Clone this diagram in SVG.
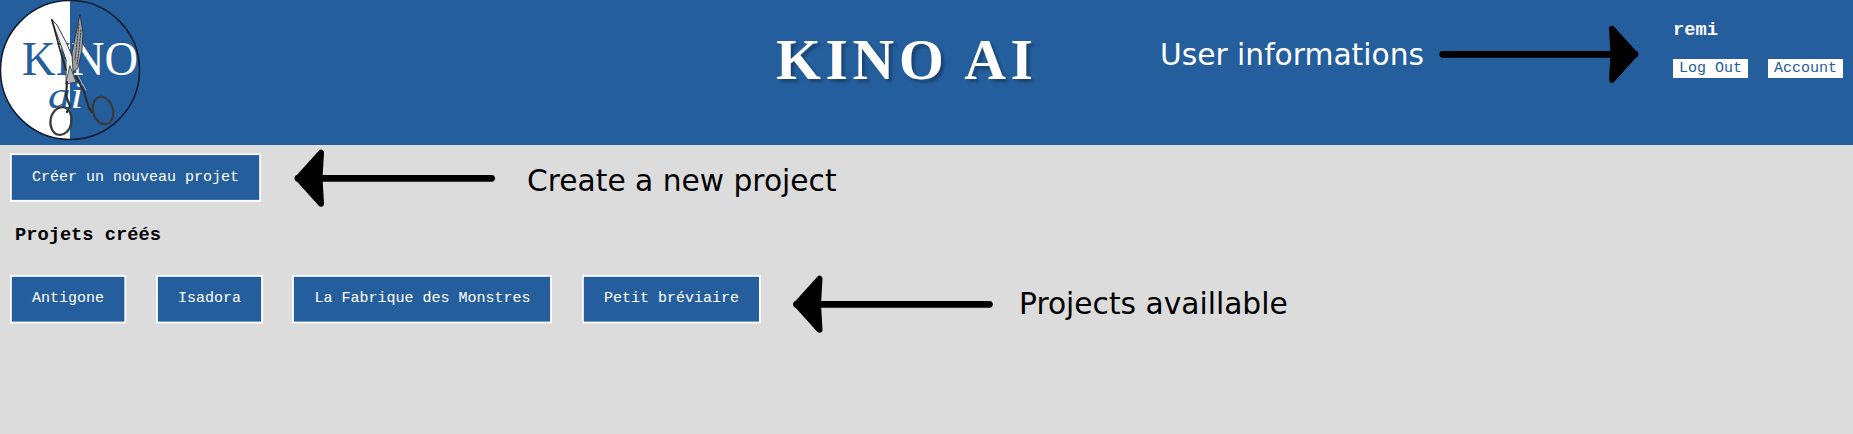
<svg xmlns="http://www.w3.org/2000/svg" width="1853" height="434" viewBox="0 0 1853 434">
<style>
.mono{font-family:"Liberation Mono",monospace}
.btn rect{fill:#245e9d;stroke:#fff;stroke-width:1.8}
.btn text{font-family:"Liberation Mono",monospace;font-size:15px;fill:#fff;text-anchor:middle}
.lnk rect{fill:#fff}
.lnk text{font-family:"Liberation Mono",monospace;font-size:15px;fill:#245e9d;text-anchor:middle}
.note{font-family:"DejaVu Sans",sans-serif;font-size:29.7px}
.arrow{stroke:#000;stroke-width:6.8;stroke-linecap:round;fill:none;marker-end:url(#head)}
.logo{font-family:"Liberation Serif",serif;fill:url(#split)}
</style>
<defs>
<marker id="head" markerUnits="userSpaceOnUse" markerWidth="44" markerHeight="70" viewBox="-36 -35 44 70" refX="0" refY="0" orient="auto">
<path d="M-23,-25.5 L0,0 L-23,25.5 L-21.5,0 Z" fill="#000" stroke="#000" stroke-width="6" stroke-linejoin="round"/>
</marker>
<linearGradient id="split" gradientUnits="userSpaceOnUse" x1="0" y1="0" x2="140" y2="0">
<stop offset="0.5" stop-color="#245e9d"/><stop offset="0.5" stop-color="#fff"/>
</linearGradient>
<filter id="sh" x="-5%" y="-20%" width="110%" height="150%"><feDropShadow dx="3" dy="3" stdDeviation="1.5" flood-color="#000" flood-opacity="0.3"/></filter>
</defs>
<rect width="1853" height="434" fill="#dcdcdc"/>
<rect id="header" width="1853" height="145" fill="#245e9d"/>
<g id="logo">
<path d="M70,0.5A69.5,69.5 0 0 0 70,139.5Z" fill="#fff"/>
<circle cx="70" cy="70" r="69.5" fill="none" stroke="#0d1c2e" stroke-width="1.5"/>
<text class="logo" x="22" y="75" font-size="48.5" textLength="116" lengthAdjust="spacingAndGlyphs">KINO</text>
<text class="logo" x="48" y="108" font-size="38" font-style="italic" textLength="35" lengthAdjust="spacingAndGlyphs">ai</text>
<g id="scissors" fill="none" stroke-linecap="round" stroke-linejoin="round">
<path d="M51.7,19.3 L57,25 L66,42 L73,58 L75,68 L72,78 L66,82 L66,60 Z" fill="#eef0f2" stroke="#2b2b2b" stroke-width="0.9"/>
<path d="M52,20 L60,50 L66,70" stroke="#222" stroke-width="1.6"/>
<path d="M80,15 L83,33 L82,50 L78,68 L73,72 L72,53 L75,38 Z" fill="#9aa0a6" stroke="#2a2a2a" stroke-width="0.8"/>
<path d="M79,24 L77,42 L75,60 M81,30 L79,50 L77,64" stroke="#3a3a3a" stroke-width="1" stroke-dasharray="1.5 1.5"/>
<path d="M70,66 L76,82 L66,84 Z" fill="#b5b8bb" stroke="#333" stroke-width="0.8"/>
<path d="M76,76 L84,92 L89,108 L92,112" stroke="#2e2e2e" stroke-width="2.2"/>
<path d="M78,76 L86,90" stroke="#c9c9c9" stroke-width="0.8"/>
<path d="M67,82 L66,96 L70,106 L67,112" stroke="#2e2e2e" stroke-width="2.2"/>
<ellipse cx="103" cy="110.5" rx="10" ry="14" transform="rotate(-15 103 110.5)" stroke="#3a3a3a" stroke-width="2.2"/>
<ellipse cx="61" cy="121" rx="10.5" ry="14" transform="rotate(10 61 121)" stroke="#3a3a3a" stroke-width="2.2"/>
</g>
</g>
<g id="title"><text x="776" y="79" font-family="'Liberation Serif',serif" font-weight="bold" font-size="57.6" letter-spacing="4.7" fill="#fff" filter="url(#sh)">KINO AI</text></g>
<g id="user-informations-label"><text class="note" x="1160" y="65" fill="#fff">User informations</text></g>
<g id="user-name"><text class="mono" x="1673" y="35" font-weight="bold" font-size="18.72" fill="#fff">remi</text></g>
<g id="log-out" class="lnk"><rect x="1673" y="59" width="75" height="19"/><text x="1710.5" y="72">Log Out</text></g>
<g id="account" class="lnk"><rect x="1768" y="59" width="75" height="19"/><text x="1805.5" y="72">Account</text></g>
<g id="create-project" class="btn"><rect x="10.9" y="154.2" width="249.2" height="46.6"/><text x="135.5" y="181">Créer un nouveau projet</text></g>
<g id="create-label"><text class="note" x="527" y="191">Create a new project</text></g>
<g id="projects-heading"><text class="mono" x="15" y="240" font-weight="bold" font-size="18.72" fill="#000">Projets créés</text></g>
<g id="project-antigone" class="btn"><rect x="10.9" y="275.9" width="114.4" height="46.6"/><text x="68" y="302">Antigone</text></g>
<g id="project-isadora" class="btn"><rect x="157" y="275.9" width="105" height="46.6"/><text x="209.5" y="302">Isadora</text></g>
<g id="project-fabrique" class="btn"><rect x="293" y="275.9" width="258" height="46.6"/><text x="422.5" y="302">La Fabrique des Monstres</text></g>
<g id="project-petit" class="btn"><rect x="582.9" y="275.9" width="177" height="46.6"/><text x="671.5" y="302">Petit bréviaire</text></g>
<g id="projects-label"><text class="note" x="1019" y="314">Projects availlable</text></g>
<g id="connectors">
<path class="arrow" d="M1442.7,54.3H1635"/>
<path class="arrow" d="M491.6,178.3H298"/>
<path class="arrow" d="M989.4,304.3H796.5"/>
</g>
</svg>
